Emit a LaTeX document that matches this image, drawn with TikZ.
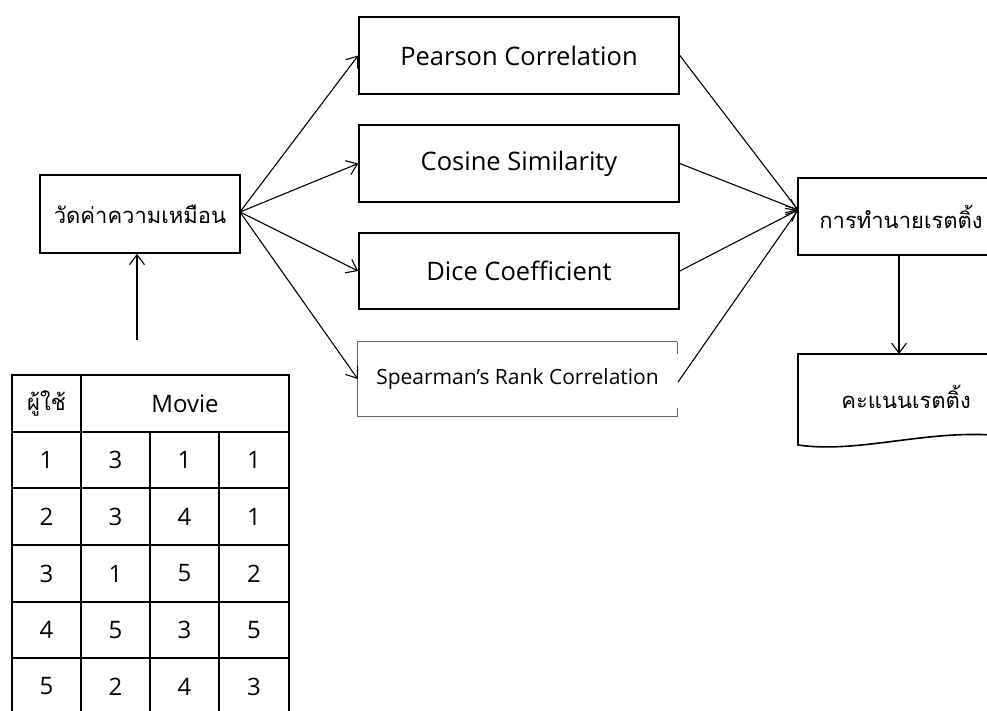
\documentclass[tikz,border=0pt]{standalone}
\usepackage{fontspec}
\setmainfont{Open Sans}
\newfontfamily\thai[Script=Thai]{Loma}
\usetikzlibrary{arrows.meta}
\tikzset{
  box/.style={draw, line width=1.6pt, inner sep=0pt, font=\fontsize{25.5}{28}\selectfont},
  thbox/.style={draw, line width=1.6pt, inner sep=0pt, font=\thai\fontsize{22}{24}\selectfont},
  thinbox/.style={inner sep=0pt, font=\fontsize{21}{24}\selectfont},
  conn/.style={line width=1.1pt, -{Straight Barb[length=10pt,width=15pt,line width=1.1pt]}},
  cell/.style={inner sep=0pt, font=\fontsize{24}{26}\selectfont},
  thcell/.style={inner sep=0pt, font=\thai\fontsize{22}{24}\selectfont},
  grid/.style={line width=1.6pt},
}
\begin{document}
\begin{tikzpicture}[x=1pt,y=-1pt]
\useasboundingbox (0,0) rectangle (987,711);
\clip (0,0) rectangle (987,711);
% method boxes
\node[box, minimum width=320pt, minimum height=77pt] (pear) at (519,55.5) {Pearson Correlation};
\node[box, minimum width=320pt, minimum height=77pt] (cos) at (519,163.5) {Cosine Similarity};
\node[box, minimum width=320pt, minimum height=76pt] (dice) at (519,271) {Dice Coefficient};
\node[thinbox, minimum width=319pt, minimum height=74pt] (spear) at (517.5,379) {Spearman’s Rank Correlation};
\draw[gray!80!black, line width=0.7pt] (spear.north east) -- (spear.north west) -- (spear.south west) -- (spear.south east) -- ++(0,-8);
\draw[gray!80!black, line width=0.7pt] (spear.north east) -- ++(0,12);
% similarity box
\node[thbox, minimum width=200pt, minimum height=78pt] (sim) at (140,214) {วัดค่าความเหมือน};
% prediction box
\node[thbox, minimum width=206pt, minimum height=77pt] (pred) at (901,216.5) {การทำนายเรตติ้ง};
% document shape
\coordinate (dtl) at (798,354);
\coordinate (dtr) at (1004,354);
\coordinate (dbl) at (798,445);
\coordinate (dbr) at (1004,436);
\draw[line width=1.6pt] (dbr) -- (dtr) -- (dtl) -- (dbl) .. controls (860,454) and (930,428) .. (dbr);
\node[thcell] (score) at (906,397) {คะแนนเรตติ้ง};
% connectors
\coordinate (simout) at (240,212);
\coordinate (predin) at (798,210);
\coordinate (tabtop) at (137,340);
\coordinate (spearout) at (678,382);
\coordinate (predbot) at (899,255);
\coordinate (docin) at (899,354);
\draw[conn] (simout) -- (pear.west);
\draw[conn] (simout) -- (cos.west);
\draw[conn] (simout) -- (dice.west);
\draw[conn] (simout) -- (spear.west);
\draw[conn] (pear.east) -- (predin);
\draw[conn] (cos.east) -- (predin);
\draw[conn] (dice.east) -- (predin);
\draw[conn] (spearout) -- (predin);
\draw[conn] (tabtop) -- (sim.south -| tabtop);
\draw[conn] (predbot) -- (docin);
% table
\draw[grid] (12,375) rectangle (289,720);
\foreach \y in {432,488,545,602,658,715} \draw[grid] (12,\y) -- (289,\y);
\draw[grid] (81,375) -- (81,720);
\draw[grid] (150,432) -- (150,720);
\draw[grid] (219,432) -- (219,720);
\node[thcell] (hu) at (46.5,403.5) {ผู้ใช้};
\node[cell] (hm) at (185,403.5) {Movie};
\node[cell] (a1) at (46.5,460) {1};
\node[cell] (a2) at (115.5,460) {3};
\node[cell] (a3) at (184.5,460) {1};
\node[cell] (a4) at (254,460) {1};
\node[cell] (b1) at (46.5,516.5) {2};
\node[cell] (b2) at (115.5,516.5) {3};
\node[cell] (b3) at (184.5,516.5) {4};
\node[cell] (b4) at (254,516.5) {1};
\node[cell] (c1) at (46.5,573.5) {3};
\node[cell] (c2) at (115.5,573.5) {1};
\node[cell] (c3) at (184.5,573.5) {5};
\node[cell] (c4) at (254,573.5) {2};
\node[cell] (d1) at (46.5,630) {4};
\node[cell] (d2) at (115.5,630) {5};
\node[cell] (d3) at (184.5,630) {3};
\node[cell] (d4) at (254,630) {5};
\node[cell] (e1) at (46.5,686.5) {5};
\node[cell] (e2) at (115.5,686.5) {2};
\node[cell] (e3) at (184.5,686.5) {4};
\node[cell] (e4) at (254,686.5) {3};
\end{tikzpicture}
\end{document}
